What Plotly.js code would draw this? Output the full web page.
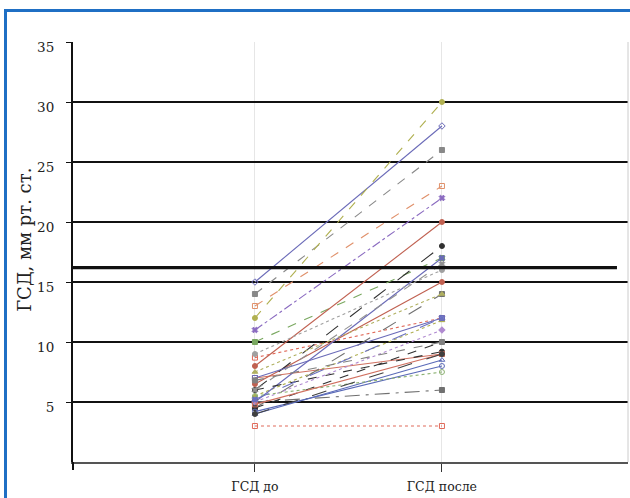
<!DOCTYPE html>
<html>
<head>
<meta charset="utf-8">
<script src="https://cdn.plot.ly/plotly-3.0.1.min.js"></script>
<style>
  html, body { margin: 0; padding: 0; background: #fff; }
  #wrap { position: relative; width: 630px; height: 498px; overflow: hidden; }
  #chart { position: absolute; left: 0; top: 0; width: 630px; height: 498px; }
  #frame { position: absolute; left: 4px; top: 9px; width: 640px; height: 520px;
           border: 3px solid #1f6fc4; box-sizing: border-box; pointer-events: none; }
</style>
</head>
<body>
<div id="wrap">
  <div id="chart"></div>
  <div id="frame"></div>
</div>
<script>
// categories
const categories = ['ГСД до', 'ГСД после'];
const yTickVals = [5, 10, 15, 20, 25, 30, 35];
const threshold = 16.2;

// per-patient values: before / after
const before = [15, 14, 13, 12, 11, 10, 8.7, 8, 7, 6.5, 6, 5.5, 5, 4.5, 4, 3,
                5, 4.5, 6, 7, 5, 4.2, 5.5, 6, 4.8, 7.5, 5.2, 9, 6.8, 4];
const after  = [28, 26, 23, 30, 22, 17, 12, 20, 9, 15, 18, 11.8, 17, 14, 8.5, 3,
                6, 10, 9.2, 12, 11, 8, 7.5, 16.5, 9, 14, 12, 16, 10, 9];

// styles per series
const colors = ['#6a6ab8', '#888888', '#e0906a', '#b0b050', '#8a6ac0', '#7aa860', '#e06a5a', '#c06050', '#d07060', '#c06050',
                '#303030', '#b0b050', '#6a6ab8', '#707070', '#5a6ab8', '#e06a5a',
                '#707070', '#303030', '#303030', '#6a6ab8', '#b08ad0', '#5a6ab8', '#8ab070', '#909090', '#d07060', '#b0b060',
                '#6a70c0', '#a0a0a0', '#808080', '#404040'];
const dashes = ['solid', 'dash', 'dash', 'dash', 'dashdot', 'dash', 'dot', 'solid', 'solid', 'solid',
                'longdash', 'dot', 'solid', 'longdash', 'solid', 'dot',
                'longdashdot', 'dash', 'dash', 'solid', 'dot', 'solid', 'dot', 'dash', 'solid', 'dot',
                'longdash', 'dot', 'dash', 'longdash'];
const symbols = ['diamond-open', 'square', 'square-open', 'circle', 'x', 'square', 'square-open', 'circle', 'square-open', 'circle',
                 'circle', 'triangle-up', 'x', 'square', 'triangle-up-open', 'square-open',
                 'square', 'circle', 'circle', 'square-open', 'diamond', 'circle-open', 'circle-open', 'x', 'square-open', 'triangle-up',
                 'x', 'circle', 'square', 'circle'];

const traces = before.map((b, i) => ({
  type: 'scatter',
  mode: 'lines+markers',
  x: [0, 1],
  y: [b, after[i]],
  line: { color: colors[i], width: 1.1, dash: dashes[i] },
  marker: { color: colors[i], size: 5, symbol: symbols[i], line: { color: colors[i], width: 1 } },
  showlegend: false,
  hoverinfo: 'y'
}));

const layout = {
  width: 630, height: 498,
  margin: { l: 73, r: 2, t: 42, b: 36 },
  paper_bgcolor: '#ffffff',
  plot_bgcolor: '#ffffff',
  showlegend: false,
  xaxis: {
    range: [-0.973, 1.995],
    tickvals: [0, 1],
    ticktext: categories,
    showgrid: true, gridcolor: '#e6e6e6', gridwidth: 1,
    zeroline: false,
    showline: true, linecolor: '#555555', linewidth: 2,
    ticks: 'outside', ticklen: 8, tickcolor: '#333333', tickwidth: 1,
    ticklabelstandoff: 4,
    tickfont: { family: 'DejaVu Serif, serif', size: 12.5, color: '#222' },
    mirror: false
  },
  yaxis: {
    range: [0, 35],
    tickvals: yTickVals,
    showgrid: true, gridcolor: '#111111', gridwidth: 2,
    zeroline: false,
    showline: true, linecolor: '#111111', linewidth: 2,
    ticks: 'outside', ticklen: 5, tickcolor: '#111111', tickwidth: 1,
    ticklabelshift: 5,
    ticklabelstandoff: 9,
    tickfont: { family: 'DejaVu Serif, serif', size: 13.5, color: '#222' }
  },
  shapes: [
    { type: 'line', xref: 'x', yref: 'y', x0: -0.973, x1: 1.936, y0: threshold, y1: threshold,
      line: { color: '#111111', width: 3.2 } },
    { type: 'line', xref: 'paper', yref: 'paper', x0: 1, x1: 1, y0: 0, y1: 1,
      line: { color: '#cccccc', width: 1 } },
    { type: 'line', xref: 'paper', yref: 'paper', x0: 0, x1: 0, y0: 0, y1: -0.019,
      line: { color: '#111111', width: 2 } }
  ],
  annotations: [
    { text: 'ГСД, мм рт. ст.', xref: 'paper', yref: 'paper', x: -0.0865, y: 0.529,
      textangle: -90, showarrow: false, xanchor: 'center', yanchor: 'middle',
      font: { family: 'DejaVu Serif, serif', size: 18, color: '#222' } }
  ]
};

Plotly.newPlot('chart', traces, layout, { displayModeBar: false, staticPlot: true });
</script>
</body>
</html>
